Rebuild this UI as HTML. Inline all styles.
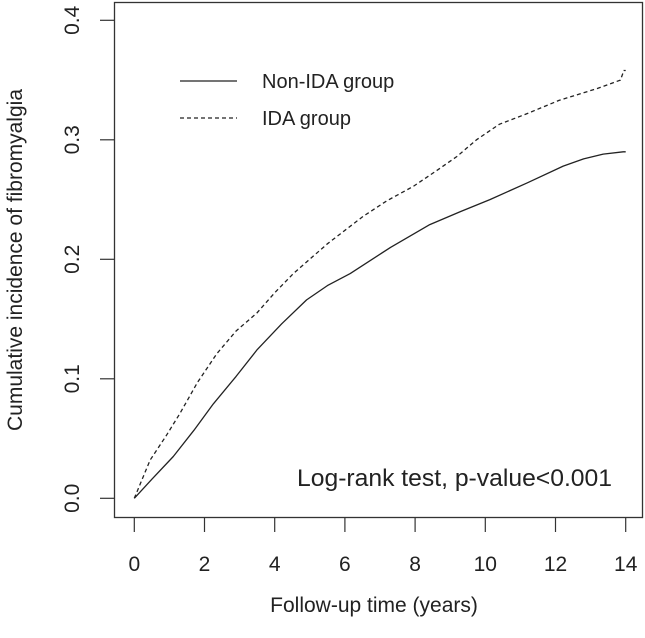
<!DOCTYPE html>
<html><head><meta charset="utf-8"><style>
html,body{margin:0;padding:0;background:#fff}
svg{display:block;font-family:"Liberation Sans",Arial,sans-serif}
</style></head><body>
<svg id="chart" width="645" height="638" viewBox="0 0 645 638" xmlns="http://www.w3.org/2000/svg">
<rect x="0" y="0" width="645" height="638" fill="#fff"/>
<rect x="114.5" y="2.5" width="528" height="515" fill="none" stroke="#333" stroke-width="1.3"/>
<g id="xaxis"></g>
<g id="yaxis"></g>
<g id="series"></g>
<text x="374" y="612" font-size="21" text-anchor="middle" fill="#222">Follow-up time (years)</text>
<text transform="translate(22,260) rotate(-90)" font-size="21" text-anchor="middle" fill="#222">Cumulative incidence of fibromyalgia</text>
<g>
<line x1="180" y1="81" x2="237" y2="81" stroke="#222" stroke-width="1.2"/>
<text x="262" y="88" font-size="20" fill="#222">Non-IDA group</text>
<line x1="180" y1="118" x2="237" y2="118" stroke="#222" stroke-width="1.2" stroke-dasharray="4,3"/>
<text x="262" y="125" font-size="20" fill="#222">IDA group</text>
</g>
<text x="297" y="486" font-size="24" textLength="315" lengthAdjust="spacingAndGlyphs" fill="#222">Log-rank test, p-value&lt;0.001</text>
</svg>
<script>
const xTicks = [0,2,4,6,8,10,12,14];
const yTicks = [0.0,0.1,0.2,0.3,0.4];
const yTickLabels = ["0.0","0.1","0.2","0.3","0.4"];
const nonIdaTime = [0,0.5,1.11,1.7,2.25,2.9,3.49,4.2,4.91,5.5,6.15,7.3,8.42,9.3,10.13,11.2,12.22,12.8,13.36,13.93,14.0];
const nonIdaValue = [0,0.016,0.035,0.057,0.079,0.102,0.124,0.146,0.166,0.178,0.188,0.21,0.229,0.24,0.25,0.264,0.278,0.284,0.288,0.29,0.29];
const idaTime = [0,0.45,0.9,1.3,1.8,2.35,2.9,3.49,4.0,4.53,5.5,6.52,7.2,7.95,8.6,9.19,9.75,10.4,11.2,12.1,13.2,13.85,13.95,14.0];
const idaValue = [0,0.032,0.052,0.071,0.097,0.121,0.14,0.155,0.172,0.188,0.213,0.236,0.249,0.261,0.274,0.286,0.30,0.313,0.322,0.333,0.343,0.35,0.358,0.358];

const NS="http://www.w3.org/2000/svg";
function xs(t){return 134.3 + t*35.1;}
function ys(v){return 498.3 - v*1195;}
function mk(tag,attrs,parent){const e=document.createElementNS(NS,tag);for(const k in attrs)e.setAttribute(k,attrs[k]);parent.appendChild(e);return e;}
const xa=document.getElementById('xaxis'), ya=document.getElementById('yaxis'), sg=document.getElementById('series');
xTicks.forEach(t=>{
  const l=mk('line',{x1:xs(t),x2:xs(t),y1:517.5,y2:532,stroke:'#333','stroke-width':1.2},xa);
  
  
  const tx=mk('text',{x:xs(t),y:571,'font-size':21,'text-anchor':'middle',fill:'#222'},xa);
  tx.textContent=String(t);
  
  
});
yTicks.forEach((v,i)=>{
  const l=mk('line',{x1:100,x2:114.5,y1:ys(v),y2:ys(v),stroke:'#333','stroke-width':1.2},ya);
  
  
  const tx=mk('text',{transform:'translate(79,'+ys(v)+') rotate(-90)','font-size':21,'text-anchor':'middle',fill:'#222'},ya);
  tx.textContent=yTickLabels[i];
  
  
});
function pts(T,V){return T.map((t,i)=>xs(t).toFixed(1)+','+ys(V[i]).toFixed(1)).join(' ');}
const p1=mk('polyline',{points:pts(nonIdaTime,nonIdaValue),fill:'none',stroke:'#222','stroke-width':1.3,'stroke-linejoin':'round'},sg);


const p2=mk('polyline',{points:pts(idaTime,idaValue),fill:'none',stroke:'#222','stroke-width':1.3,'stroke-dasharray':'4,3'},sg);


</script>
</body></html>
